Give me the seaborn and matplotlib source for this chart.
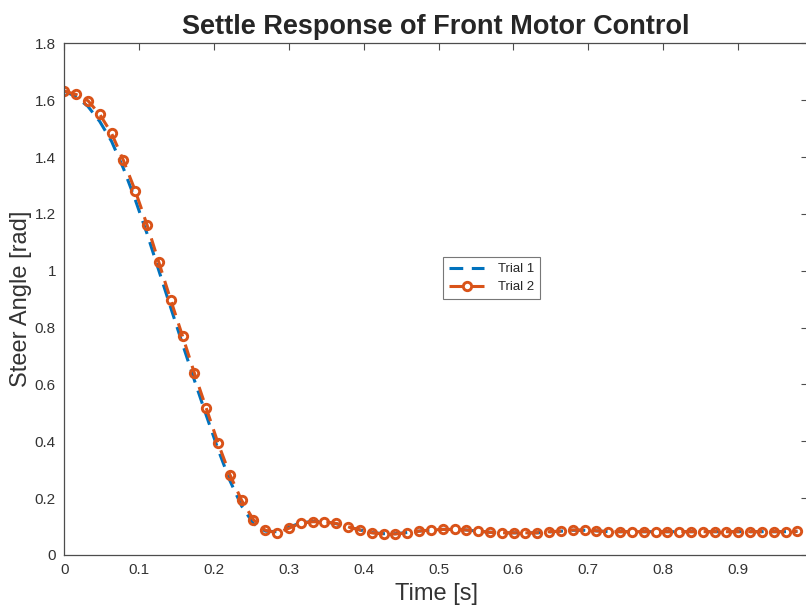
import numpy as np
import pandas as pd
import matplotlib
matplotlib.use("Agg")
import matplotlib.pyplot as plt
import seaborn as sns

# ---- data ----
dt = 0.0158
trial2 = [1.632, 1.620, 1.598, 1.550, 1.483, 1.388, 1.281, 1.161, 1.029, 0.897,
          0.770, 0.640, 0.517, 0.394, 0.283, 0.192, 0.124, 0.087, 0.078, 0.094,
          0.112, 0.117, 0.117, 0.111, 0.099, 0.088, 0.078, 0.074, 0.074, 0.078,
          0.084, 0.088, 0.090, 0.090, 0.088, 0.084, 0.080, 0.078, 0.078, 0.078,
          0.078, 0.082, 0.084, 0.088, 0.088, 0.085, 0.082, 0.082, 0.082, 0.082,
          0.082, 0.082, 0.082, 0.082, 0.082, 0.082, 0.082, 0.082, 0.082, 0.082,
          0.082, 0.082, 0.084]
trial1 = [1.632, 1.612, 1.578, 1.525, 1.455, 1.360, 1.250, 1.130, 1.000, 0.870,
          0.742, 0.615, 0.492, 0.372, 0.262, 0.172, 0.110, 0.084, 0.082, 0.098,
          0.113, 0.118, 0.117, 0.110, 0.099, 0.088, 0.079, 0.075, 0.075, 0.079,
          0.084, 0.088, 0.090, 0.090, 0.088, 0.084, 0.080, 0.078, 0.078, 0.078,
          0.078, 0.081, 0.084, 0.087, 0.087, 0.085, 0.082, 0.082, 0.082, 0.082,
          0.082, 0.082, 0.082, 0.082, 0.082, 0.082, 0.082, 0.082, 0.082, 0.082,
          0.082, 0.082, 0.083]
time = [i * dt for i in range(len(trial2))]
xticks = [0, 0.1, 0.2, 0.3, 0.4, 0.5, 0.6, 0.7, 0.8, 0.9]
xticklabels = ["0", "0.1", "0.2", "0.3", "0.4", "0.5", "0.6", "0.7", "0.8", "0.9"]
yticks = [0, 0.2, 0.4, 0.6, 0.8, 1.0, 1.2, 1.4, 1.6, 1.8]
yticklabels = ["0", "0.2", "0.4", "0.6", "0.8", "1", "1.2", "1.4", "1.6", "1.8"]

sns.set_style("white")
plt.rcParams["font.family"] = ["Liberation Sans", "DejaVu Sans"]

blue = "#0072BD"
orange = "#D95319"
axcol = "#4d4d4d"

fig = plt.figure(figsize=(8.06, 6.06), dpi=100)
ax = fig.add_axes([64.3 / 806, 1 - 555 / 606, (808 - 64.3) / 806, (555 - 43.3) / 606])

df = pd.DataFrame({"Time": time, "Trial 1": trial1, "Trial 2": trial2})
sns.lineplot(data=df, x="Time", y="Trial 1", ax=ax, color=blue, linewidth=2.2,
             label="Trial 1")
sns.lineplot(data=df, x="Time", y="Trial 2", ax=ax, color=orange, linewidth=2.2,
             marker="o", markersize=6, markerfacecolor="none",
             markeredgecolor=orange, markeredgewidth=2.1, label="Trial 2")
for ln in ax.get_lines():
    ln.set_dashes((4.5, 2.8))

ax.set_xlim(0, 0.9937)
ax.set_ylim(0, 1.8)
ax.set_xticks(xticks)
ax.set_xticklabels(xticklabels)
ax.set_yticks(yticks)
ax.set_yticklabels(yticklabels)
ax.tick_params(direction="in", length=5, width=0.8, colors=axcol, labelsize=11,
               labelcolor="#333333", top=True, right=True, pad=6)
for s in ax.spines.values():
    s.set_color(axcol)
    s.set_linewidth(0.9)
    s.set_visible(True)

ax.set_xlabel("Time [s]", fontsize=17, color="#333333", labelpad=4)
ax.set_ylabel("Steer Angle [rad]", fontsize=17, color="#333333", labelpad=2)
ax.set_title("Settle Response of Front Motor Control", fontsize=19.5,
             fontweight="bold", pad=7)

leg = ax.legend(loc="center", bbox_to_anchor=(0.575, 0.541), fontsize=9.5,
                frameon=True, fancybox=False, edgecolor="#555555",
                handlelength=2.6, handletextpad=1.1, borderpad=0.45,
                labelspacing=0.45, borderaxespad=0)
leg.get_frame().set_linewidth(0.8)
for h in leg.get_lines():
    h.set_dashes((4.5, 2.8))

fig.savefig("out.png", dpi=100)
